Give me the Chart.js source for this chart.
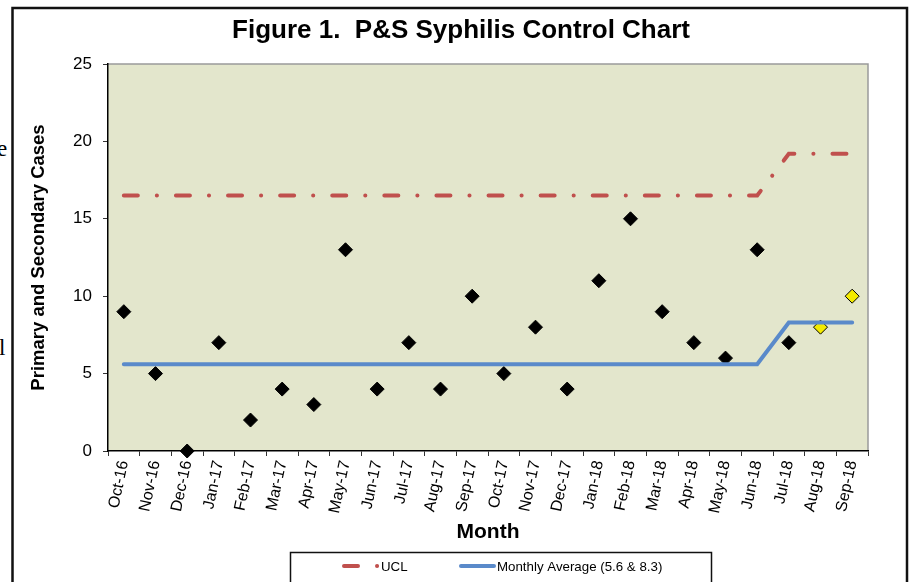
<!DOCTYPE html>
<html>
<head>
<meta charset="utf-8">
<script src="https://cdn.jsdelivr.net/npm/chart.js@4/dist/chart.umd.min.js"></script>
<style>
  html, body { margin: 0; padding: 0; background: #fff; }
  #wrap { position: relative; width: 911px; height: 582px; overflow: hidden; }
  #chart { position: absolute; left: 0; top: 0; }
  .frag { position: absolute; font-family: "Liberation Serif", serif; font-size: 23px; color: #000; }
</style>
</head>
<body>
<div id="wrap">
  <span class="frag" style="left:-3px;top:136px">e</span>
  <span class="frag" style="left:-1px;top:335px">l</span>
  <canvas id="chart" width="911" height="582" style="width:911px;height:582px"></canvas>
</div>
<script>
// data
const months = ['Oct-16', 'Nov-16', 'Dec-16', 'Jan-17', 'Feb-17', 'Mar-17', 'Apr-17', 'May-17',
    'Jun-17', 'Jul-17', 'Aug-17', 'Sep-17', 'Oct-17', 'Nov-17', 'Dec-17', 'Jan-18',
    'Feb-18', 'Mar-18', 'Apr-18', 'May-18', 'Jun-18', 'Jul-18', 'Aug-18', 'Sep-18']

const cases = [9, 5, 0, 7, 2, 4, 3, 13, 4, 7, 4, 10, 5, 8, 4, 11, 15, 9, 7, 6, 13, 7, 8, 10]

const ucl = [16.5, 16.5, 16.5, 16.5, 16.5, 16.5, 16.5, 16.5, 16.5, 16.5, 16.5, 16.5,
    16.5, 16.5, 16.5, 16.5, 16.5, 16.5, 16.5, 16.5, 16.5, 19.2, 19.2, 19.2]

const monthlyAvg = [5.6, 5.6, 5.6, 5.6, 5.6, 5.6, 5.6, 5.6, 5.6, 5.6, 5.6, 5.6,
    5.6, 5.6, 5.6, 5.6, 5.6, 5.6, 5.6, 5.6, 5.6, 8.3, 8.3, 8.3]

// months shown in yellow (preliminary)
const preliminary = ['Aug-18', 'Sep-18']

const RED = '#C0504D'
const BLUE = '#5A8ACA'
const UCL_DASH = [14, 19, 0.1, 19]

let pointColors = months.map(m => preliminary.includes(m) ? '#F4EB00' : '#000000')

// background, frame, title and legend box
const decor = {
    id: 'decor',
    beforeDraw(chart) {
        const ctx = chart.ctx
        const a = chart.chartArea
        ctx.save()
        ctx.fillStyle = '#E3E6CC'
        ctx.fillRect(a.left, a.top, a.right - a.left, a.bottom - a.top)

        ctx.strokeStyle = '#9a9a9a'
        ctx.lineWidth = 1.5
        ctx.beginPath()
        ctx.moveTo(a.left, a.top)
        ctx.lineTo(a.right, a.top)
        ctx.lineTo(a.right, a.bottom)
        ctx.stroke()

        // outer frame
        ctx.strokeStyle = '#111'
        ctx.lineWidth = 2.5
        ctx.strokeRect(12.5, 8, 894.5, 620)

        // title
        ctx.fillStyle = '#000'
        ctx.font = 'bold 26px "Liberation Sans", Arial, sans-serif'
        ctx.textAlign = 'center'
        ctx.textBaseline = 'middle'
        ctx.fillText('Figure 1.  P&S Syphilis Control Chart', 461, 31)
        ctx.restore()
    },
    afterDraw(chart) {
        const ctx = chart.ctx
        ctx.save()
        ctx.strokeStyle = '#111'
        ctx.lineWidth = 1.5
        ctx.strokeRect(290.5, 552.5, 421, 60)

        ctx.lineWidth = 4
        ctx.lineCap = 'round'
        ctx.strokeStyle = RED
        ctx.setLineDash(UCL_DASH)
        ctx.beginPath()
        ctx.moveTo(344, 566)
        ctx.lineTo(379, 566)
        ctx.stroke()

        ctx.setLineDash([])
        ctx.strokeStyle = BLUE
        ctx.beginPath()
        ctx.moveTo(461, 566)
        ctx.lineTo(494, 566)
        ctx.stroke()

        ctx.fillStyle = '#000'
        ctx.font = '13.3px "Liberation Sans", Arial, sans-serif'
        ctx.textBaseline = 'middle'
        ctx.textAlign = 'left'
        ctx.fillText('UCL', 381, 567)
        ctx.fillText('Monthly Average (5.6 & 8.3)', 497, 567)
        ctx.restore()
    }
}

var ctx = document.getElementById('chart')
var chart = new Chart(ctx, {
    type: 'line',
    data: {
        labels: months,
        datasets: [{
            label: 'UCL',
            data: ucl,
            borderColor: RED,
            borderWidth: 4,
            borderDash: UCL_DASH,
            borderCapStyle: 'round',
            pointRadius: 0,
            tension: 0,
            fill: false,
            order: 1
        }, {
            label: 'Monthly Average (5.6 & 8.3)',
            data: monthlyAvg,
            borderColor: BLUE,
            borderWidth: 4,
            borderCapStyle: 'round',
            pointRadius: 0,
            tension: 0,
            fill: false,
            order: 2
        }, {
            label: 'Cases',
            data: cases,
            showLine: false,
            pointStyle: 'rectRot',
            pointRadius: 7,
            pointHoverRadius: 7,
            pointBackgroundColor: pointColors,
            pointBorderColor: '#000',
            pointBorderWidth: 1,
            clip: false,
            order: 3
        }]
    },
    options: {
        responsive: false,
        animation: false,
        devicePixelRatio: 1,
        layout: {
            padding: { left: 28, top: 64, right: 43, bottom: 0 }
        },
        plugins: {
            legend: { display: false },
            title: { display: false },
            tooltip: { enabled: false }
        },
        scales: {
            x: {
                offset: true,
                grid: {
                    offset: true,
                    drawOnChartArea: false,
                    tickLength: 5,
                    color: '#333'
                },
                border: { display: true, color: '#000', width: 1.5 },
                ticks: {
                    minRotation: 78,
                    maxRotation: 78,
                    padding: 3,
                    color: '#000',
                    font: { family: '"Liberation Sans", Arial', size: 16 }
                },
                title: {
                    display: true,
                    text: 'Month',
                    color: '#000',
                    font: { family: '"Liberation Sans", Arial', size: 21, weight: 'bold' },
                    padding: { top: 0, bottom: 37 }
                },
                afterFit: function(scale) { scale.height = 131 }
            },
            y: {
                min: 0,
                max: 25,
                ticks: {
                    stepSize: 5,
                    padding: 11,
                    color: '#000',
                    font: { family: '"Liberation Sans", Arial', size: 17 }
                },
                grid: {
                    drawOnChartArea: false,
                    tickLength: 5,
                    color: '#333'
                },
                border: { display: true, color: '#000', width: 1.5 },
                title: {
                    display: true,
                    text: 'Primary and Secondary Cases',
                    color: '#000',
                    font: { family: '"Liberation Sans", Arial', size: 18.5, weight: 'bold' },
                    padding: 0
                },
                afterFit: function(scale) { scale.width = 80 }
            }
        }
    },
    plugins: [decor]
})
</script>
</body>
</html>
